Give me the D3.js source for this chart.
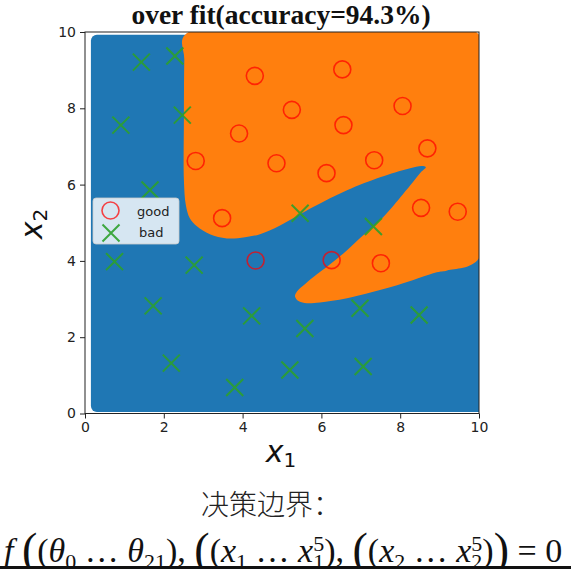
<!DOCTYPE html>
<html>
<head>
<meta charset="utf-8">
<script src="https://cdn.jsdelivr.net/npm/d3@7"></script>
<style>
  body { margin: 0; background: #fff; }
  svg { display: block; }
</style>
</head>
<body>
<svg width="571" height="569"></svg>
<script>
  // points
  const goodX = [4.31, 6.53, 5.25, 3.91, 6.56, 8.06, 2.81, 4.86, 6.13, 7.34, 8.69, 3.48, 8.53, 9.46, 4.33, 6.26, 7.51];
  const goodY = [8.85, 9.02, 7.96, 7.34, 7.56, 8.06, 6.62, 6.56, 6.30, 6.64, 6.95, 5.12, 5.39, 5.29, 4.01, 4.02, 3.94];
  const badX = [1.43, 2.28, 0.91, 2.47, 1.65, 5.46, 7.32, 0.75, 2.77, 1.73, 4.23, 5.58, 6.98, 8.48, 2.19, 3.80, 5.20, 7.06];
  const badY = [9.21, 9.37, 7.56, 7.82, 5.86, 5.25, 4.90, 3.98, 3.89, 2.82, 2.56, 2.23, 2.76, 2.58, 1.32, 0.68, 1.14, 1.23];

  // extent of the filled contour grid
  const gridX = [0.15, 10];
  const gridY = [0.04, 9.93];

  // boundary of the "good" (orange) region, traced clockwise
  const boundX = [2.54, 10, 10, 9.19, 8.93, 7.92, 6.65, 5.96, 5.63, 5.43, 5.33, 5.38, 5.58, 5.79, 6.22, 6.65, 7.06, 7.56, 8.07, 8.32, 8.53, 8.65,
                  8.55, 8.25, 7.87, 7.49, 6.65, 5.79, 4.95, 4.44, 4.06, 3.60, 3.17, 2.84, 2.66, 2.56, 2.51, 2.51, 2.52];
  const boundY = [9.93, 9.93, 4.07, 3.75, 3.70, 3.36, 3.02, 2.91, 2.89, 2.94, 3.07, 3.20, 3.39, 3.57, 3.91, 4.28, 4.67, 5.14, 5.75, 6.06, 6.33, 6.46,
                  6.49, 6.43, 6.32, 6.19, 5.85, 5.41, 4.93, 4.70, 4.62, 4.59, 4.70, 4.91, 5.12, 5.46, 6.12, 7.69, 9.27];

  const ticks = [0, 2, 4, 6, 8, 10];

  const svg = d3.select("svg");

  const x = d3.scaleLinear().domain([0, 10]).range([85, 479]);
  const y = d3.scaleLinear().domain([0, 10]).range([413.5, 32]);

  const blue = "#1f77b4", orange = "#ff7f0e";

  svg.append("clipPath").attr("id", "plotclip")
    .append("rect")
      .attr("x", x(0)).attr("y", y(10))
      .attr("width", x(10) - x(0)).attr("height", y(0) - y(10));

  const plot = svg.append("g").attr("clip-path", "url(#plotclip)");

  // blue background region (rounded at the left, runs off the right edge)
  plot.append("rect")
    .attr("x", x(gridX[0]))
    .attr("y", y(gridY[1]))
    .attr("width", x(gridX[1]) - x(gridX[0]) + 12)
    .attr("height", y(gridY[0]) - y(gridY[1]))
    .attr("rx", 6)
    .attr("fill", blue);

  const bound = boundX.map((d, i) => [d, boundY[i]]);
  plot.append("path")
    .attr("d", d3.line().x(d => x(d[0])).y(d => y(d[1])).curve(d3.curveCatmullRomClosed.alpha(0.5))(bound))
    .attr("fill", orange);

  // axes
  svg.append("g")
    .attr("transform", `translate(0,${y(0)})`)
    .call(d3.axisBottom(x).tickValues(ticks).tickSize(5).tickPadding(4).tickFormat(d3.format("d")))
    .call(g => g.select(".domain").remove());
  svg.append("g")
    .attr("transform", `translate(${x(0)},0)`)
    .call(d3.axisLeft(y).tickValues(ticks).tickSize(5).tickPadding(4).tickFormat(d3.format("d")))
    .call(g => g.select(".domain").remove());
  svg.selectAll(".tick text")
    .attr("font-family", "DejaVu Sans").attr("font-size", 14).attr("fill", "#222");
  svg.selectAll(".tick line").attr("stroke", "#222");

  svg.append("rect")
    .attr("x", x(0)).attr("y", y(10))
    .attr("width", x(10) - x(0)).attr("height", y(0) - y(10))
    .attr("fill", "none").attr("stroke", "#222").attr("stroke-width", 1);

  // markers
  const circ = (g, cx, cy) => g.append("circle")
    .attr("cx", cx).attr("cy", cy).attr("r", 8.5)
    .attr("fill", "none").attr("stroke", "#ff0000").attr("stroke-opacity", 0.72).attr("stroke-width", 1.6);
  const cross = (g, cx, cy) => g.append("path")
    .attr("d", `M${cx - 8.5},${cy - 8.5}L${cx + 8.5},${cy + 8.5}M${cx - 8.5},${cy + 8.5}L${cx + 8.5},${cy - 8.5}`)
    .attr("stroke", "#2ca02c").attr("stroke-opacity", 0.9).attr("stroke-width", 2).attr("fill", "none");

  const marks = svg.append("g");
  goodX.forEach((d, i) => circ(marks, x(d), y(goodY[i])));
  badX.forEach((d, i) => cross(marks, x(d), y(badY[i])));

  // legend
  const lg = svg.append("g");
  lg.append("rect")
    .attr("x", 93).attr("y", 198).attr("width", 86).attr("height", 46).attr("rx", 3)
    .attr("fill", "#fff").attr("fill-opacity", 0.82)
    .attr("stroke", "#ccc").attr("stroke-opacity", 0.8);
  circ(lg, 110.5, 210.5);
  cross(lg, 111, 233);
  lg.append("text").attr("x", 137).attr("y", 215.5).text("good");
  lg.append("text").attr("x", 139).attr("y", 237).text("bad");
  lg.selectAll("text").attr("font-family", "DejaVu Sans").attr("font-size", 13).attr("fill", "#222");

  // title and axis labels
  svg.append("text")
    .attr("x", 281).attr("y", 24).attr("text-anchor", "middle")
    .attr("font-family", "Liberation Serif").attr("font-weight", "bold").attr("font-size", 27.5).attr("fill", "#111")
    .text("over fit(accuracy=94.3%)");

  const xl = svg.append("text")
    .attr("x", 281).attr("y", 462).attr("text-anchor", "middle")
    .attr("font-family", "DejaVu Sans").attr("font-size", 30).attr("fill", "#111");
  xl.append("tspan").attr("font-style", "italic").text("x");
  xl.append("tspan").attr("font-size", 20).attr("dy", 5).text("1");

  const yl = svg.append("text")
    .attr("transform", "translate(42,224) rotate(-90)").attr("text-anchor", "middle")
    .attr("font-family", "DejaVu Sans").attr("font-size", 30).attr("fill", "#111");
  yl.append("tspan").attr("font-style", "italic").text("x");
  yl.append("tspan").attr("font-size", 20).attr("dy", 5).text("2");

  // caption below the chart
  svg.append("text")
    .attr("x", 271).attr("y", 515).attr("text-anchor", "middle")
    .attr("font-family", "Noto Sans CJK SC").attr("font-weight", 300).attr("font-size", 28).attr("fill", "#222")
    .text("决策边界：");

  // formula, cut off by the strip at the bottom like the screenshot
  const f = svg.append("text")
    .attr("x", 4).attr("y", 562)
    .attr("font-family", "Liberation Serif").attr("font-size", 34).attr("fill", "#111");
  const it = s => f.append("tspan").attr("font-style", "italic").text(s);
  const tx = s => f.append("tspan").text(s);
  const sub = s => f.append("tspan").attr("font-size", 22).attr("dy", 7).text(s);
  const bigOpen = () => {
    f.append("tspan").attr("font-size", 46).attr("font-weight", 300).attr("dy", 3).text("(");
    f.append("tspan").attr("dy", -3).text("(");
  };

  it("f"); tx(" ");
  bigOpen();
  it("θ"); sub("0"); f.append("tspan").attr("dy", -7).text(" … "); it("θ"); sub("21");
  f.append("tspan").attr("dy", -7).text(")");
  tx(", ");
  bigOpen();
  it("x"); sub("1"); f.append("tspan").attr("dy", -7).text(" … "); it("x"); sub("1");
  f.append("tspan").attr("font-size", 22).attr("dx", -11).attr("dy", -18).text("5");
  f.append("tspan").attr("dy", 11).text(")");
  tx(", ");
  bigOpen();
  it("x"); sub("2"); f.append("tspan").attr("dy", -7).text(" … "); it("x"); sub("2");
  f.append("tspan").attr("font-size", 22).attr("dx", -11).attr("dy", -18).text("5");
  f.append("tspan").attr("dy", 11).text(")");
  f.append("tspan").attr("font-size", 46).attr("dy", 3).text(")");
  f.append("tspan").attr("dy", -3).text(" = 0");

  // dark strip at the very bottom of the screenshot
  svg.append("rect").attr("x", 0).attr("y", 566).attr("width", 571).attr("height", 3).attr("fill", "#111");
</script>
</body>
</html>
